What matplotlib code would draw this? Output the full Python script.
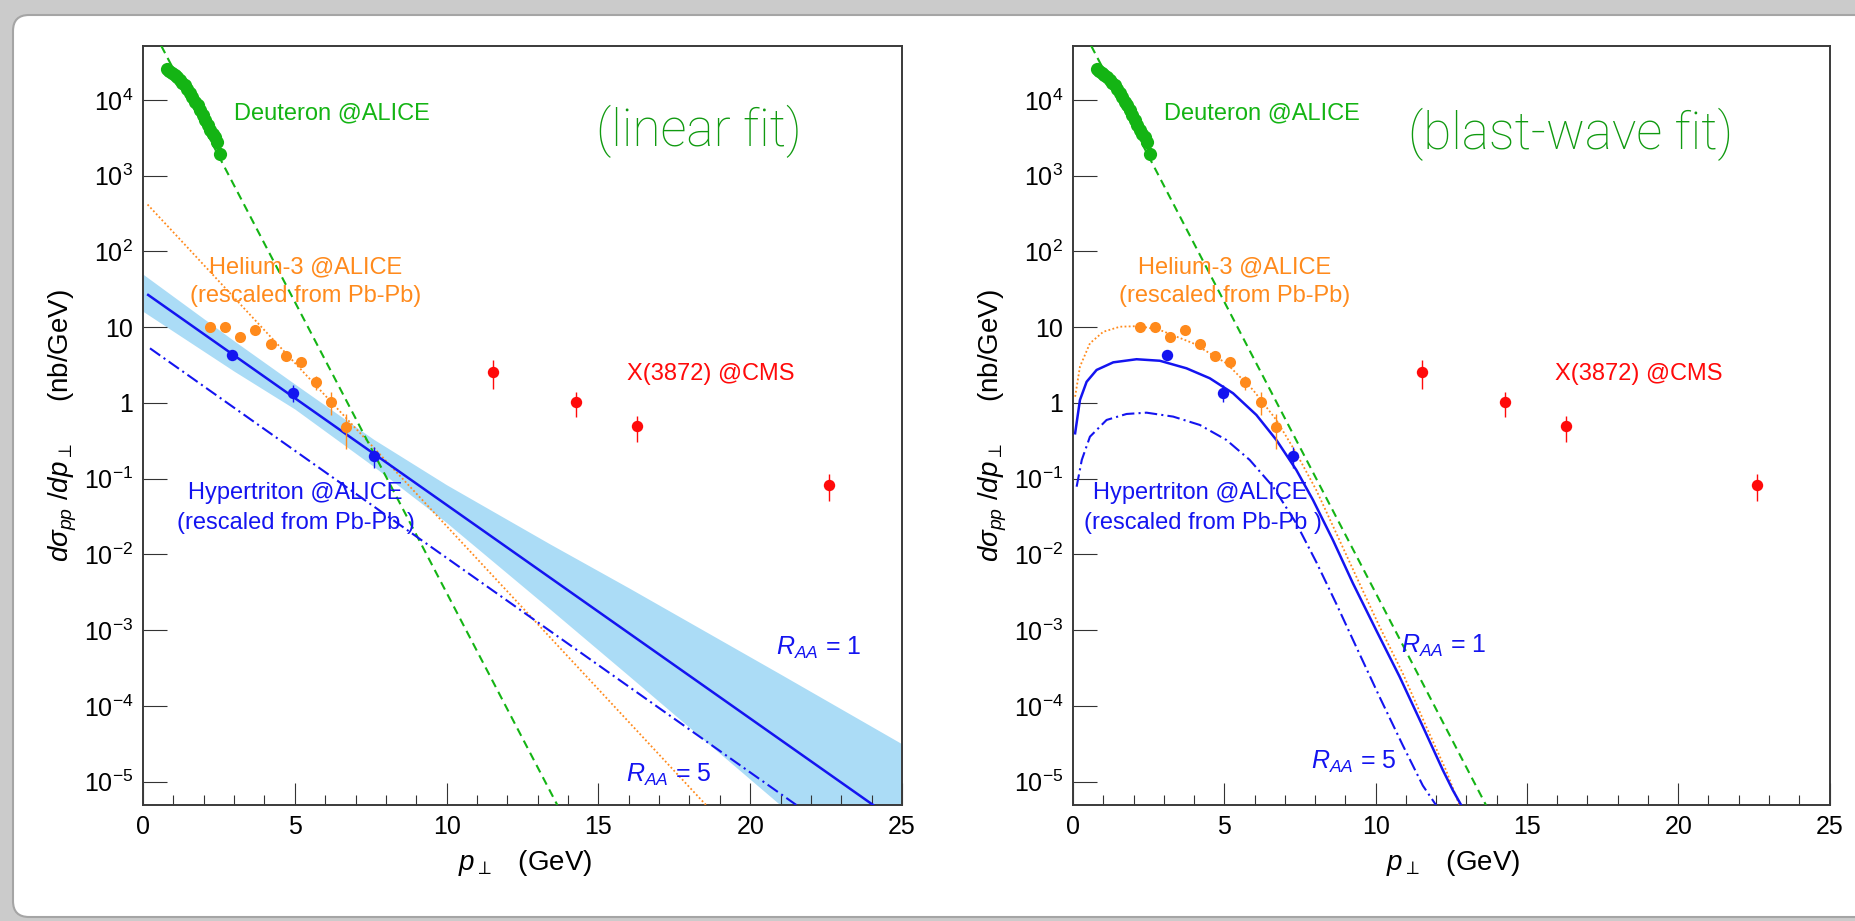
import numpy as np
import matplotlib
matplotlib.use('Agg')
import matplotlib.pyplot as plt
from matplotlib.ticker import FixedLocator, LogLocator, MultipleLocator, NullFormatter, FuncFormatter
from matplotlib.patches import FancyBboxPatch
from matplotlib.transforms import IdentityTransform

plt.rcParams['font.family'] = ['Liberation Sans', 'DejaVu Sans']
plt.rcParams['mathtext.fontset'] = 'custom'
plt.rcParams['mathtext.rm'] = 'Liberation Sans'
plt.rcParams['mathtext.it'] = 'Liberation Sans:italic'
plt.rcParams['mathtext.bf'] = 'Liberation Sans:bold'
plt.rcParams['mathtext.fallback'] = 'stixsans'

# ---------------- data ----------------
# Deuteron @ALICE
deut_pt = [0.78, 0.86, 0.95, 1.04, 1.13, 1.22, 1.30, 1.38, 1.46, 1.55, 1.63,
           1.71, 1.80, 1.88, 1.96, 2.04, 2.13, 2.21, 2.29, 2.37, 2.45, 2.53]
deut_y = [26000, 24500, 23000, 21500, 20000, 18600, 17000, 15600, 14000, 12300, 10800,
          9500, 8500, 7400, 6300, 5400, 4700, 4000, 3600, 3250, 2800, 1950]
deut_fit_pt = [0.60, 13.65]
deut_fit_y = [5.2e4, 4.9e-6]

# Helium-3 @ALICE (rescaled)
he_pt = [2.2, 2.7, 3.2, 3.7, 4.2, 4.7, 5.2, 5.7, 6.2, 6.7]
he_y = [10.2, 10.2, 7.5, 9.2, 6.0, 4.2, 3.5, 1.88, 1.04, 0.48]
he_err = [0.5, 0.5, 0.4, 0.5, 0.3, 0.2, 0.3, 0.40, 0.34, 0.23]
he_lin_pt = [0.15, 18.55]
he_lin_y = [417, 4.9e-6]
he_bw_pt = [0.07, 0.23, 0.56, 1.0, 1.55, 2.2, 2.87, 3.97, 5.07, 5.95, 6.72, 7.38,
            8.04, 8.70, 9.36, 10.13, 10.90, 11.67, 12.33, 12.77]
he_bw_y = [1.21, 3.02, 6.14, 8.71, 10.16, 10.35, 9.20, 6.14, 3.34, 1.486, 0.597, 0.217,
           0.0708, 0.0191, 0.00513, 0.00112, 2.69e-4, 5.37e-5, 1.41e-5, 4.9e-6]

# Hypertriton @ALICE (rescaled)
hyp_pt_lin = [2.94, 4.93, 7.62]
hyp_pt_bw = [3.12, 4.96, 7.27]
hyp_y = [4.35, 1.37, 0.20]
hyp_err = [0.3, 0.35, 0.06]

# linear fit (R_AA = 1 and R_AA = 5) and its band
lin1_pt = [0.17, 24.05]
lin1_y = [26.7, 4.93e-6]
lin5_pt = [0.23, 21.52]
lin5_y = [5.27, 4.93e-6]
band_pt = [0, 3, 5, 7.6, 10, 13.4, 16, 21, 25]
band_hi = [50.1, 6.61, 1.78, 0.331, 0.0832, 0.0138, 0.00363, 2.63e-4, 3.16e-5]
band_lo = [16.2, 2.63, 0.832, 0.145, 0.0263, 0.00191, 2.51e-4, 4.9e-6, 2e-7]

# blast-wave fit (R_AA = 1 and R_AA = 5)
bw1_pt = [0.07, 0.23, 0.45, 0.78, 1.33, 2.10, 2.87, 3.75, 4.52, 5.29, 6.06, 6.72,
          7.38, 7.93, 8.59, 9.25, 10.02, 10.79, 11.56, 12.22, 12.55, 12.83]
bw1_y = [0.398, 1.096, 1.905, 2.73, 3.44, 3.78, 3.61, 2.87, 2.12, 1.343, 0.695, 0.325,
         0.1306, 0.0525, 0.0155, 0.00417, 0.001, 2.45e-4, 5.37e-5, 1.43e-5, 7.76e-6, 4.9e-6]
bw5_pt = [0.12, 0.29, 0.56, 1.11, 1.77, 2.43, 3.31, 4.19, 5.07, 5.84, 6.61, 7.38,
          8.04, 8.70, 9.36, 10.13, 10.90, 11.56, 12.0]
bw5_y = [0.0785, 0.177, 0.359, 0.597, 0.716, 0.745, 0.661, 0.513, 0.325, 0.177, 0.0785, 0.0257,
         0.00794, 0.00224, 6.03e-4, 1.32e-4, 3.02e-5, 8.9e-6, 4.9e-6]

# X(3872) @CMS
x3872_pt = [11.53, 14.27, 16.28, 22.6]
x3872_y = [2.6, 1.02, 0.49, 0.083]
x3872_err = [1.05, 0.37, 0.18, 0.032]

y_major = [1e-5, 1e-4, 1e-3, 1e-2, 1e-1, 1, 10, 1e2, 1e3, 1e4]

# ---------------- styles ----------------
GREEN = '#14b414'
GREEN_TXT = '#109a10'
ORANGE = '#ff8a1c'
BLUE = '#1414f0'
RED = '#ff0a0a'
BAND = '#abdcf6'
W, H = 1855, 921

fig = plt.figure(figsize=(W / 100, H / 100), dpi=100, facecolor='#cbcbcb')
paper = FancyBboxPatch((13, 4), 1950, 902, boxstyle='round,pad=0,rounding_size=16',
                       transform=IdentityTransform(), facecolor='white',
                       edgecolor='#a5a5a5', lw=1.5, zorder=-10)
fig.patches.append(paper)


def fmt(v, pos):
    k = int(round(np.log10(v)))
    if k == 0:
        return '1'
    if k == 1:
        return '10'
    return '$10^{%d}$' % k


def style_axes(ax):
    ax.set_xlim(0, 25)
    ax.set_yscale('log')
    ax.set_ylim(4.93e-6, 5.16e4)
    ax.yaxis.set_major_locator(FixedLocator(y_major))
    ax.yaxis.set_major_formatter(FuncFormatter(fmt))
    ax.yaxis.set_minor_locator(LogLocator(base=10, subs=np.arange(2, 10)))
    ax.yaxis.set_minor_formatter(NullFormatter())
    ax.xaxis.set_major_locator(MultipleLocator(5))
    ax.xaxis.set_minor_locator(MultipleLocator(1))
    ax.tick_params(which='both', direction='in', top=False, right=False,
                   color='#333333', width=0.8, labelsize=18, pad=7)
    ax.tick_params(axis='y', which='major', length=17)
    ax.tick_params(axis='y', which='minor', length=7.7)
    ax.tick_params(axis='x', which='major', length=15.5)
    ax.tick_params(axis='x', which='minor', length=7.2)
    for s in ax.spines.values():
        s.set_color('#3a3a3a')
        s.set_linewidth(1.4)
    ax.set_facecolor('white')
    ax.text(-80 / 759, 0.5, r'$d\sigma_{pp}\ /dp_{\perp}$' + '     (nb/GeV)',
            transform=ax.transAxes, rotation=90, ha='center', va='center', fontsize=20)
    ax.text(0.503, -0.076, r'$p_{\perp}$' + '   (GeV)', transform=ax.transAxes,
            ha='center', va='center', fontsize=20)


def common_points(ax, hyp_pt):
    ax.plot(deut_fit_pt, deut_fit_y, color=GREEN, lw=1.5, dashes=(4, 2.6), zorder=3)
    ax.plot(deut_pt, deut_y, 'o', color=GREEN, ms=9.5, mew=0, zorder=5)
    ax.errorbar(he_pt, he_y, yerr=he_err, fmt='o', color=ORANGE, ms=8, mew=0,
                elinewidth=1, capsize=3.5, capthick=1, zorder=5)
    ax.errorbar(hyp_pt, hyp_y, yerr=hyp_err, fmt='o', color=BLUE, ms=8.2, mew=0,
                elinewidth=1, capsize=3.5, capthick=1, zorder=6)
    ax.errorbar(x3872_pt, x3872_y, yerr=x3872_err, fmt='o', color=RED, ms=8.2, mew=0,
                elinewidth=1, capsize=3.5, capthick=1, zorder=6)
    ax.text(3.0, 6.7e3, 'Deuteron @ALICE', color=GREEN, fontsize=17, ha='left', va='center')
    ax.text(5.35, 62, 'Helium-3 @ALICE', color=ORANGE, fontsize=17, ha='center', va='center')
    ax.text(5.35, 26, '(rescaled from Pb-Pb)', color=ORANGE, fontsize=17, ha='center', va='center')
    ax.text(18.7, 2.38, 'X(3872) @CMS', color=RED, fontsize=17, ha='center', va='center')


FIT_FONT = ['Roboto', 'Lato', 'DejaVu Sans']

axL = fig.add_axes([143 / W, 1 - 805 / H, 759 / W, 759 / H])
style_axes(axL)
axL.fill_between(band_pt, band_lo, band_hi, color=BAND, lw=0, zorder=1)
axL.plot(he_lin_pt, he_lin_y, color=ORANGE, lw=1.3, ls=(0, (1, 1.3)), zorder=3)
axL.plot(lin1_pt, lin1_y, color=BLUE, lw=1.8, zorder=4)
axL.plot(lin5_pt, lin5_y, color=BLUE, lw=1.5, dashes=(6, 2, 1, 2), zorder=4)
common_points(axL, hyp_pt_lin)
axL.text(5.0, 0.0646, 'Hypertriton @ALICE', color=BLUE, fontsize=17, ha='center', va='center')
axL.text(5.05, 0.0258, '(rescaled from Pb-Pb )', color=BLUE, fontsize=17, ha='center', va='center')
axL.text(22.26, 5.8e-4, r'$R_{AA}$ = 1', color=BLUE, fontsize=18, ha='center', va='center')
axL.text(17.32, 1.23e-5, r'$R_{AA}$ = 5', color=BLUE, fontsize=18, ha='center', va='center')
axL.text(18.32, 3.9e3, '(linear fit)', color=GREEN_TXT, fontsize=37, ha='center', va='center',
         family=FIT_FONT, fontweight='light')

axR = fig.add_axes([1073 / W, 1 - 805 / H, 756.5 / W, 759 / H])
style_axes(axR)
axR.plot(he_bw_pt, he_bw_y, color=ORANGE, lw=1.3, ls=(0, (1, 1.3)), zorder=3)
axR.plot(bw1_pt, bw1_y, color=BLUE, lw=1.8, zorder=4)
axR.plot(bw5_pt, bw5_y, color=BLUE, lw=1.5, dashes=(6, 2, 1, 2), zorder=4)
common_points(axR, hyp_pt_bw)
axR.text(4.2, 0.0646, 'Hypertriton @ALICE', color=BLUE, fontsize=17, ha='center', va='center')
axR.text(4.3, 0.0258, '(rescaled from Pb-Pb )', color=BLUE, fontsize=17, ha='center', va='center')
axR.text(12.25, 6.2e-4, r'$R_{AA}$ = 1', color=BLUE, fontsize=18, ha='center', va='center')
axR.text(9.28, 1.84e-5, r'$R_{AA}$ = 5', color=BLUE, fontsize=18, ha='center', va='center')
axR.text(16.45, 3.55e3, '(blast-wave fit)', color=GREEN_TXT, fontsize=37, ha='center', va='center',
         family=FIT_FONT, fontweight='light')

fig.savefig('out.png', dpi=100, facecolor=fig.get_facecolor())
